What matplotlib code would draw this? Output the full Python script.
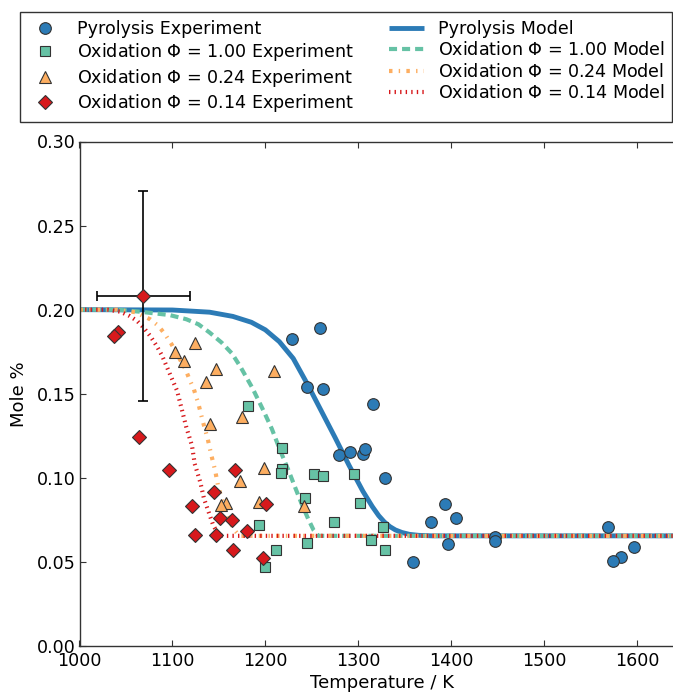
import matplotlib
matplotlib.use("Agg")
import matplotlib.pyplot as plt

plt.rcParams['font.family'] = ['DejaVu Sans']
plt.rcParams['lines.scale_dashes'] = False
plt.rcParams['mathtext.default'] = 'regular'

# ---------------- data ----------------
pyro_T = [1228.7, 1258.8, 1244.4, 1262.4, 1315.4, 1278.8, 1291.1, 1304.6, 1307.2, 1328.7,
          1358.4, 1378.8, 1393.2, 1405.1, 1397.1, 1447.3, 1447.3, 1569.1, 1597.1, 1583.1, 1574.2]
pyro_v = [0.1824, 0.1890, 0.1541, 0.1531, 0.1439, 0.1138, 0.1152, 0.1142, 0.1172, 0.1000,
          0.0500, 0.0735, 0.0842, 0.0763, 0.0609, 0.0648, 0.0624, 0.0707, 0.0589, 0.0529, 0.0504]

ox100_T = [1181, 1217.5, 1217.5, 1217, 1252, 1262, 1295, 1243, 1302, 1274, 1193, 1314,
           1245, 1212, 1200, 1327, 1329]
ox100_v = [0.143, 0.118, 0.105, 0.103, 0.102, 0.101, 0.102, 0.088, 0.085, 0.074, 0.072, 0.063,
           0.061, 0.057, 0.047, 0.071, 0.057]

ox024_T = [1124, 1102.9, 1112.9, 1146.6, 1209, 1136.2, 1175, 1140.9, 1199, 1172.8, 1157.7,
           1152.3, 1192.8, 1242]
ox024_v = [0.1804, 0.1749, 0.1696, 0.1650, 0.1636, 0.1567, 0.1364, 0.1320, 0.1060, 0.0984,
           0.0850, 0.0836, 0.0856, 0.0830]

ox014_T = [1068.8, 1041.9, 1037.6, 1063.8, 1096.8, 1167.7, 1145.2, 1121.1, 1201, 1151.3,
           1164.2, 1180, 1124.7, 1147, 1165.3, 1197.1]
ox014_v = [0.2079, 0.1869, 0.1844, 0.1241, 0.1048, 0.1049, 0.0915, 0.0832, 0.0846, 0.0763,
           0.0751, 0.0684, 0.0658, 0.0658, 0.0573, 0.0524]

# error bar on one Phi = 0.14 point
err_T = 1068.8
err_v = 0.2079
err_xerr = 50
err_yerr = 0.0625

# model curves
pyro_model_T = [1000, 1100, 1140, 1165, 1185, 1200, 1215, 1230, 1245, 1260, 1275, 1290, 1305,
                1315, 1322, 1328, 1334, 1340, 1347, 1355, 1365, 1380, 1650]
pyro_model_v = [0.2000, 0.1998, 0.1985, 0.1960, 0.1925, 0.1880, 0.1810, 0.1710, 0.1560, 0.1400,
                0.1240, 0.1075, 0.0920, 0.0830, 0.0775, 0.0738, 0.0710, 0.0690, 0.0675, 0.0664,
                0.0658, 0.0655, 0.0655]

ox100_model_T = [1000, 1040, 1065, 1097, 1115, 1128, 1140, 1153, 1164, 1173, 1186, 1198, 1207,
                 1216, 1225, 1232, 1239, 1246, 1252, 1257, 1650]
ox100_model_v = [0.2000, 0.2000, 0.1988, 0.1968, 0.1943, 0.1913, 0.1864, 0.1804, 0.1740, 0.1662,
                 0.1535, 0.1399, 0.1291, 0.1162, 0.1043, 0.0944, 0.0846, 0.0757, 0.0688, 0.0655,
                 0.0655]

ox024_model_T = [1000, 1040, 1060, 1076, 1085, 1092, 1099, 1106, 1114, 1119, 1123, 1128, 1133,
                 1138, 1142, 1146, 1149, 1153, 1158, 1162, 1167, 1172, 1650]
ox024_model_v = [0.2000, 0.2000, 0.1985, 0.1943, 0.1903, 0.1854, 0.1795, 0.1725, 0.1646, 0.1577,
                 0.1528, 0.1439, 0.1330, 0.1231, 0.1132, 0.1043, 0.0955, 0.0876, 0.0806, 0.0737,
                 0.0688, 0.0655, 0.0655]

ox014_model_T = [1000, 1030, 1044, 1054, 1062, 1069, 1076, 1083, 1089, 1094, 1099, 1105, 1110,
                 1115, 1121, 1124, 1130, 1134, 1139, 1144, 1149, 1153, 1650]
ox014_model_v = [0.2000, 0.2000, 0.1988, 0.1962, 0.1933, 0.1893, 0.1844, 0.1785, 0.1725, 0.1660,
                 0.1595, 0.1518, 0.1409, 0.1300, 0.1192, 0.1083, 0.0974, 0.0876, 0.0796, 0.0717,
                 0.0668, 0.0655, 0.0655]

x_ticks = [1000, 1100, 1200, 1300, 1400, 1500, 1600]
y_ticks = [0.00, 0.05, 0.10, 0.15, 0.20, 0.25, 0.30]

labels = ["Pyrolysis Experiment",
          r"Oxidation $\Phi$ = 1.00 Experiment",
          r"Oxidation $\Phi$ = 0.24 Experiment",
          r"Oxidation $\Phi$ = 0.14 Experiment",
          "Pyrolysis Model",
          r"Oxidation $\Phi$ = 1.00 Model",
          r"Oxidation $\Phi$ = 0.24 Model",
          r"Oxidation $\Phi$ = 0.14 Model"]

# ---------------- style ----------------
BLUE = '#2c7bb6'
GREEN = '#66c2a5'
ORANGE = '#fdae61'
RED = '#d7191c'
EDGE = '#333333'
FS = 12.6

W, H = 673, 694
fig = plt.figure(figsize=(W / 100, H / 100), dpi=100)
x0, x1 = 79.5, 683.5
y0, y1 = 646, 141.5
ax = fig.add_axes([x0 / W, 1 - y0 / H, (x1 - x0) / W, (y0 - y1) / H])

lw = 3.0
l1, = ax.plot(pyro_model_T, pyro_model_v, color=BLUE, lw=3.5, solid_capstyle='butt',
              solid_joinstyle='round', zorder=2)
l2, = ax.plot(ox100_model_T, ox100_model_v, color=GREEN, lw=lw, dashes=(5.8, 3.6), zorder=2)
l3, = ax.plot(ox024_model_T, ox024_model_v, color=ORANGE, lw=lw, dashes=(2.5, 4.5, 1, 4.5), zorder=2)
l4, = ax.plot(ox014_model_T, ox014_model_v, color=RED, lw=lw, dashes=(1, 3), zorder=2)

ax.errorbar([err_T], [err_v], xerr=[err_xerr], yerr=[err_yerr], fmt='none', ecolor='black',
            elinewidth=1.2, capsize=3.6, capthick=1.2, zorder=3)

mew = 0.8
m1, = ax.plot(pyro_T, pyro_v, 'o', ms=8.4, mfc=BLUE, mec=EDGE, mew=mew, zorder=4)
m2, = ax.plot(ox100_T, ox100_v, 's', ms=7.5, mfc=GREEN, mec=EDGE, mew=mew, zorder=4)
m3, = ax.plot(ox024_T, ox024_v, '^', ms=8.4, mfc=ORANGE, mec=EDGE, mew=mew, zorder=4)
m4, = ax.plot(ox014_T, ox014_v, 'D', ms=6.9, mfc=RED, mec=EDGE, mew=mew, zorder=5)

ax.set_xlim(1000, 1650)
ax.set_ylim(0, 0.30)
ax.set_xticks(x_ticks)
ax.set_yticks(y_ticks)
ax.set_yticklabels([f"{v:.2f}" for v in y_ticks])
ax.tick_params(direction='in', length=4, width=0.8, color=EDGE, labelsize=FS,
               top=True, right=True, pad=4)
ax.tick_params(axis='y', pad=3)
for s in ax.spines.values():
    s.set_color(EDGE)
    s.set_linewidth(1.0)
ax.set_xlabel("Temperature / K", fontsize=FS + 0.4, labelpad=3)
ax.set_ylabel("Mole %", fontsize=FS + 0.4, labelpad=6)

leg = fig.legend([m1, m2, m3, m4, l1, l2, l3, l4], labels, ncol=2, numpoints=1,
                 loc='lower left', bbox_to_anchor=(20 / W, 1 - 122 / H),
                 borderaxespad=0, fontsize=FS, fancybox=False, framealpha=1,
                 edgecolor=EDGE, labelspacing=0.2, borderpad=0.45)
leg.get_frame().set_linewidth(1.0)

fig.savefig("out.png", dpi=100)
